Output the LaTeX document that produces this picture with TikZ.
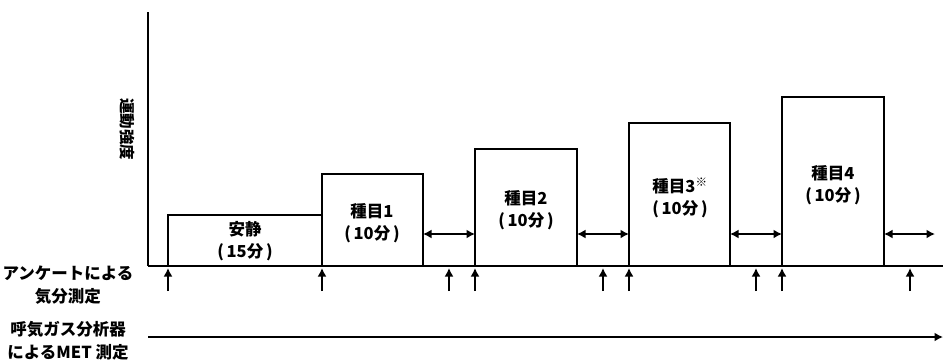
\documentclass[tikz,border=0pt]{standalone}
\usepackage{fontspec}
\setmainfont{Noto Sans CJK JP}
\usetikzlibrary{arrows.meta}
\begin{document}
\begin{tikzpicture}[x=1pt,y=-1pt,
  stage/.style={draw, line width=2.6pt, inner sep=0pt, outer sep=0pt, anchor=south west, fill=white},
  lbl/.style={font=\fontsize{16.5}{22}\selectfont\bfseries, align=center, inner sep=0pt},
  side/.style={font=\fontsize{16.5}{23}\selectfont\bfseries, align=center, inner sep=0pt},
  gap/.style={line width=2.8pt, {Latex[length=8.5pt,width=9pt]}-{Latex[length=8.5pt,width=9pt]}},
  tick/.style={line width=2.8pt, -{Latex[length=8.5pt,width=9pt]}},
  axis/.style={line width=2.6pt}]
\useasboundingbox (0,0) rectangle (943,362);
% axes
\coordinate (top) at (148,12);
\coordinate (origin) at (148,266);
\coordinate (xend) at (943,266);
\draw[axis] (top) -- (origin);
% stage boxes
\node[stage, minimum width=154pt, minimum height=51pt] (rest) at (168,266) {};
\node[stage, minimum width=101pt, minimum height=92pt] (s1) at (322,266) {};
\node[stage, minimum width=102pt, minimum height=117pt] (s2) at (475,266) {};
\node[stage, minimum width=101pt, minimum height=143pt] (s3) at (629,266) {};
\node[stage, minimum width=102pt, minimum height=169pt] (s4) at (782,266) {};
\draw[line width=2.8pt] (origin) -- (xend);
% labels in boxes
\node[lbl] (trest) at (245,241) {安静\\(\,15分\,)};
\node[lbl] (t1) at (372,223) {種目1\\(\,10分\,)};
\node[lbl] (t2) at (526,210) {種目2\\(\,10分\,)};
\node[lbl] (t3) at (680,198) {種目3\textsuperscript{\bfseries ※}\\(\,10分\,)};
\node[lbl] (t4) at (833,185) {種目4\\(\,10分\,)};
% y axis label
\node[font=\fontsize{15.5}{17}\selectfont\bfseries, rotate=-90, inner sep=0pt] (ylab) at (127,129) {運動強度};
% intervals
\draw[gap] ([yshift=32pt]s1.south east) -- ([yshift=32pt]s2.south west);
\draw[gap] ([yshift=32pt]s2.south east) -- ([yshift=32pt]s3.south west);
\draw[gap] ([yshift=32pt]s3.south east) -- ([yshift=32pt]s4.south west);
\coordinate (after) at (935,234);
\draw[gap] ([yshift=32pt]s4.south east) -- (after);
% questionnaire ticks
\foreach \n/\x in {q1/168,q2/322,q3/449,q4/475,q5/603,q6/629,q7/756,q8/782,q9/910}{
  \coordinate (\n a) at (\x,291);
  \coordinate (\n b) at (\x,268);
  \draw[tick] (\n a) -- (\n b);
}
% MET line
\coordinate (mstart) at (148,337);
\coordinate (mend) at (943,337);
\draw[tick] (mstart) -- (mend);
% side labels
\node[side] (qlab) at (68,285) {アンケートによる\\気分測定};
\node[side] (mlab) at (68,341) {呼気ガス分析器\\によるMET 測定};
\end{tikzpicture}
\end{document}
